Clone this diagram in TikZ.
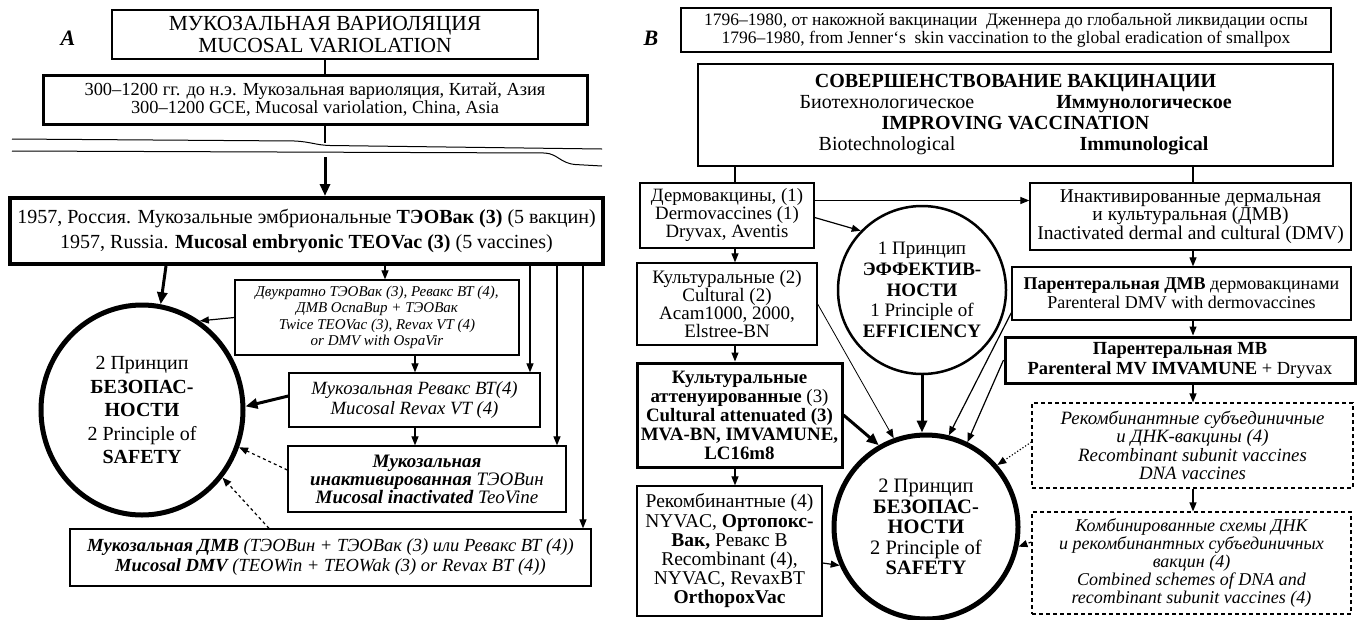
\documentclass[tikz,border=0pt]{standalone}
\usepackage{fontspec}
\setmainfont{Liberation Serif}
\usetikzlibrary{arrows.meta,shapes.geometric,calc}
\newcommand\sz[2]{\fontsize{#1}{#2}\selectfont}
\begin{document}
\begin{tikzpicture}[x=1pt,y=-1pt,
 bx/.style={draw, line width=1.3pt, inner sep=0pt, align=center},
 thk/.style={bx, line width=3pt},
 vthk/.style={bx, line width=4pt},
 dbx/.style={bx, dash pattern=on 4pt off 3pt, line width=1.2pt},
 circ/.style={ellipse, draw, inner sep=0pt, align=center},
 arr/.style={-{Triangle[length=9pt,width=7pt]}, line width=1.2pt},
 tarr/.style={-{Triangle[length=12pt,width=10pt]}, line width=3pt},
 ln/.style={line width=1.2pt},
 lab/.style={font=\bfseries\itshape\sz{22}{22}}]
\fill[white] (0,0) rectangle (1359,619);
\useasboundingbox (0,0) rectangle (1359,619);
% ---------------- Panel A ----------------
\node[lab] (labA) at (68,38) {A};
\node[bx, minimum width=426pt, minimum height=49pt, font=\sz{21.5}{22}] (a1) at (325,34.5) {МУКОЗАЛЬНАЯ ВАРИОЛЯЦИЯ\\MUCOSAL VARIOLATION};
\node[thk, minimum width=544pt, minimum height=49pt, font=\sz{18.4}{14.5}] (a2) at (315,99.5) {300–1200 гг. до н.э. Мукозальная вариоляция, Китай, Азия\\300–1200 GCE, Mucosal variolation, China, Asia};
\node[vthk, minimum width=593pt, minimum height=66pt, font=\sz{20}{25}] (a3) at (306.5,231) {1957, Россия. Мукозальные эмбриональные \textbf{ТЭОВак (3)} (5 вакцин)\\1957, Russia. \textbf{Mucosal embryonic TEOVac (3)} (5 vaccines)};
\node[bx, minimum width=284pt, minimum height=75pt, font=\itshape\sz{15}{16.5}] (a4) at (377,317.5) {Двукратно ТЭОВак (3), Ревакс ВТ (4),\\ДМВ ОспаВир + ТЭОВак\\Twice TEOVac (3), Revax VT (4)\\or DMV with OspaVir};
\node[bx, minimum width=251pt, minimum height=54pt, font=\itshape\sz{18.7}{20}] (a5) at (414.5,400) {Мукозальная Ревакс ВТ(4)\\Mucosal Revax VT (4)};
\node[bx, minimum width=278pt, minimum height=66pt, font=\itshape\sz{19}{18}] (a6) at (427,479) {\textbf{Мукозальная}\\\textbf{инактивированная} ТЭОВин\\\textbf{Mucosal inactivated} TeoVine};
\node[bx, minimum width=521pt, minimum height=57pt, font=\itshape\sz{18.5}{20}] (a7) at (330.5,557.5) {\textbf{Мукозальная ДМВ} (ТЭОВин + ТЭОВак (3) или Ревакс ВТ (4))\\\textbf{Mucosal DMV} (TEOWin + TEOWak (3) or Revax BT (4))};
\node[circ, line width=5pt, minimum width=202pt, minimum height=210pt, font=\sz{20}{23.5}] (ca) at (142,410) {2 Принцип\\\textbf{БЕЗОПАС-}\\\textbf{НОСТИ}\\2 Principle of\\\textbf{SAFETY}};
% break lines
\draw[line width=1pt] (12,139) -- (295,141) .. controls (312,142) and (315,145) .. (330,145.5) -- (602,149);
\draw[line width=1pt] (12,151) -- (545,153) .. controls (558,154) and (560,163) .. (575,164.5) -- (602,166);
\coordinate (w1) at (325,143);
\coordinate (t0) at (325,157);
\coordinate (xa) at (166,0);
\coordinate (xb) at (385,0);
\coordinate (xc) at (415,0);
\coordinate (xd) at (269,0);
\coordinate (xe) at (530,0);
\coordinate (xf) at (557,0);
\coordinate (xg) at (583,0);
\draw[ln] (a1.south) -- (a2.north -| a1.south);
\draw[ln] (a2.south -| a1.south) -- (w1);
\draw[tarr] (t0) -- (a3.north -| t0);
\draw[tarr] (a3.south -| xa) -- (ca.80);
\draw[arr] (a3.south -| xb) -- (a4.north -| xb);
\draw[arr] (a4.west) -- (ca.57);
\draw[arr] (a4.south -| xc) -- (a5.north -| xc);
\draw[arr] (a5.south -| xc) -- (a6.north -| xc);
\draw[tarr] ([yshift=4pt]a5.west) -- (ca.2);
\draw[arr, dashed] ([yshift=9pt]a6.west) -- (ca.-21);
\draw[arr, dashed] (a7.north -| xd) -- (ca.-40);
\draw[arr] (a3.south -| xe) -- (a5.north -| xe);
\draw[arr] (a3.south -| xf) -- (a6.north -| xf);
\draw[arr] (a3.south -| xg) -- (a7.north -| xg);
% ---------------- Panel B ----------------
\node[lab] (labB) at (651,38) {B};
\node[bx, minimum width=650pt, minimum height=44pt, font=\sz{17.5}{18}] (b1) at (1006,30) {1796–1980, от накожной вакцинации\ \ Дженнера до глобальной ликвидации оспы\\1796–1980, from Jenner‘s\ \ skin vaccination to the global eradication of smallpox};
\node[bx, line width=2.5pt, minimum width=635pt, minimum height=102pt, font=\sz{20}{21}] (b2) at (1015.5,115) {\textbf{СОВЕРШЕНСТВОВАНИЕ ВАКЦИНАЦИИ}\\\makebox[257pt]{Биотехнологическое}\makebox[257pt]{\textbf{Иммунологическое}}\\\textbf{IMPROVING VACCINATION}\\\makebox[257pt]{Biotechnological}\makebox[257pt]{\textbf{Immunological}}};
\node[bx, minimum width=174pt, minimum height=65pt, font=\sz{18.8}{18}] (b3) at (727,215.5) {Дермовакцины, (1)\\Dermovaccines (1)\\Dryvax, Aventis};
\node[bx, minimum width=180pt, minimum height=82pt, font=\sz{19}{18.3}] (b4) at (727,304) {Культуральные (2)\\Cultural (2)\\Acam1000, 2000,\\Elstree-BN};
\node[thk, minimum width=205pt, minimum height=104pt, font=\bfseries\sz{18.9}{19}] (b5) at (739.5,415) {Культуральные\\аттенуированные \textmd{(3)}\\Cultural attenuated (3)\\MVA-BN, IMVAMUNE,\\LC16m8};
\node[bx, minimum width=185pt, minimum height=130pt, font=\sz{19.5}{19.2}] (b6) at (729.5,551) {Рекомбинантные (4)\\NYVAC, \textbf{Ортопокс-}\\\textbf{Вак,} Ревакс В\\Recombinant (4),\\NYVAC, RevaxBT\\\textbf{OrthopoxVac}};
\node[circ, line width=2.5pt, minimum width=168pt, minimum height=168pt, font=\sz{19}{20.7}] (c1) at (922,290) {1 Принцип\\\textbf{ЭФФЕКТИВ-}\\\textbf{НОСТИ}\\1 Principle of\\\textbf{EFFICIENCY}};
\node[circ, line width=5pt, minimum width=184pt, minimum height=184pt, font=\sz{20.5}{20.5}] (c2) at (926,527) {2 Принцип\\\textbf{БЕЗОПАС-}\\\textbf{НОСТИ}\\2 Principle of\\\textbf{SAFETY}};
\node[bx, minimum width=321pt, minimum height=67pt, font=\sz{19.5}{18.5}] (b7) at (1190.5,216.5) {Инактивированные дермальная\\и культуральная (ДМВ)\\Inactivated dermal and cultural (DMV)};
\node[bx, minimum width=339pt, minimum height=53pt, font=\sz{18}{19}] (b8) at (1181.5,293.5) {\textbf{Парентеральная ДМВ} дермовакцинами\\Parenteral DMV with dermovaccines};
\node[thk, minimum width=350pt, minimum height=46pt, font=\sz{18.5}{20}] (b9) at (1180,360) {\textbf{Парентеральная МВ}\\\textbf{Parenteral MV IMVAMUNE} + Dryvax};
\node[dbx, minimum width=321pt, minimum height=85pt, font=\itshape\sz{18.8}{18.3}] (b10) at (1192.5,445.5) {Рекомбинантные субъединичные\\и ДНК-вакцины (4)\\Recombinant subunit vaccines\\DNA vaccines};
\node[dbx, minimum width=319pt, minimum height=102pt, font=\itshape\sz{18}{18}] (b11) at (1191.5,563) {Комбинированные схемы ДНК\\и рекомбинантных субъединичных\\вакцин (4)\\Combined schemes of DNA and\\recombinant subunit vaccines (4)};
\coordinate (xb1) at (735,0);
\coordinate (xb2) at (1193,0);
\draw[ln] (b2.south -| xb1) -- (b3.north -| xb1);
\draw[ln] (b2.south -| xb2) -- (b7.north -| xb2);
\draw[arr] ([yshift=15pt]b3.east) -- ([yshift=15pt]b3.east -| b7.west);
\draw[arr] ([yshift=-2pt]b3.east) -- (c1.136);
\draw[arr] (b3.south -| xb1) -- (b4.north -| xb1);
\draw[arr] (b4.south -| xb1) -- (b5.north -| xb1);
\draw[arr] (b5.south -| xb1) -- (b6.north -| xb1);
\draw[arr, line width=0.8pt] (b4.east) -- (c2.110);
\draw[tarr] (b5.east) -- (c2.120);
\draw[tarr] (c1.south) -- (c2.north -| c1.south);
\draw[arr] ([yshift=-12pt]b6.east) -- (c2.204);
\draw[arr] ([yshift=8pt]b8.south west) -- (c2.76);
\draw[arr] (b9.west) -- (c2.64);
\draw[arr, dotted] ([yshift=3.5pt]b10.west) -- (c2.41);
\draw[arr, dashed] ([yshift=21pt]b11.west) -- (c2.-12);
\draw[arr] (b7.south -| xb2) -- (b8.north -| xb2);
\draw[arr] (b8.south -| xb2) -- (b9.north -| xb2);
\draw[arr] (b9.south -| xb2) -- (b10.north -| xb2);
\draw[arr] (b10.south -| xb2) -- (b11.north -| xb2);
\end{tikzpicture}
\end{document}
